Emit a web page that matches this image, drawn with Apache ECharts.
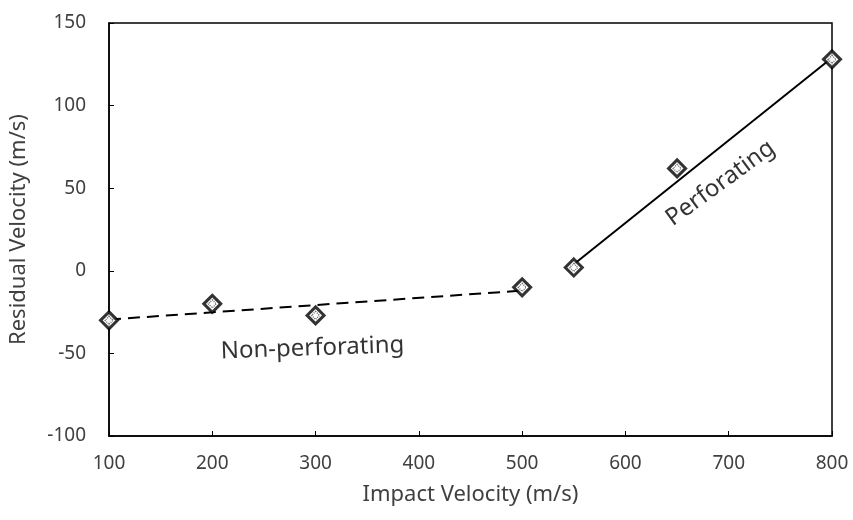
<!DOCTYPE html>
<html>
<head>
<meta charset="utf-8">
<script src="https://cdn.jsdelivr.net/npm/echarts@6/dist/echarts.min.js"></script>
<style>
    html, body { margin: 0; padding: 0; background: #fff; }
    #chart { width: 853px; height: 520px; }
</style>
</head>
<body>
<div id="chart"></div>
<script>
// 数据
var xTicks = [100, 200, 300, 400, 500, 600, 700, 800];
var yTicks = [-100, -50, 0, 50, 100, 150];
var nonPerfX = [100, 200, 300, 500];
var nonPerfY = [-30, -20, -27, -10];
var perfX = [550, 650, 800];
var perfY = [2, 62, 128];
// 趋势线端点
var nonPerfFitX = [100, 500];
var nonPerfFitY = [-29.5, -12];
var perfFitX = [550, 800];
var perfFitY = [4, 129];

function pairs(xs, ys) {
    return xs.map(function(x, i) { return [x, ys[i]]; });
}

(function() {
    var myChart = echarts.init(document.getElementById("chart"));
    var font = "Noto Sans";
    var option = {
        animation: false,
        grid: {
            left: 108,
            right: 21,
            top: 23,
            bottom: 84,
            show: true,
            borderColor: "#000",
            borderWidth: 1.5
        },
        xAxis: {
            type: "value",
            min: xTicks[0],
            max: xTicks[xTicks.length - 1],
            interval: 100,
            name: "Impact Velocity (m/s)",
            nameLocation: "middle",
            nameGap: 48,
            nameTextStyle: { color: "#404040", fontSize: 22, fontFamily: font },
            axisLine: { onZero: false, lineStyle: { color: "#000", width: 1.5 } },
            axisTick: { inside: true, length: 5, lineStyle: { color: "#000" } },
            axisLabel: { color: "#404040", fontSize: 19, fontFamily: font, margin: 18 },
            splitLine: { show: false }
        },
        yAxis: {
            type: "value",
            min: yTicks[0],
            max: yTicks[yTicks.length - 1],
            interval: 50,
            name: "Residual Velocity (m/s)",
            nameLocation: "middle",
            nameGap: 79,
            nameTextStyle: { color: "#404040", fontSize: 22, fontFamily: font },
            axisLine: { onZero: false, lineStyle: { color: "#000", width: 1.5 } },
            axisTick: { inside: true, length: 5, lineStyle: { color: "#000" } },
            axisLabel: { color: "#404040", fontSize: 19, fontFamily: font, margin: 23 },
            splitLine: { show: false }
        },
        series: [
            {
                name: "non-fit",
                type: "line",
                data: pairs(nonPerfFitX, nonPerfFitY),
                symbol: "none",
                lineStyle: { color: "#000", width: 2, type: [12, 7] },
                z: 2
            },
            {
                name: "perf-fit",
                type: "line",
                data: pairs(perfFitX, perfFitY),
                symbol: "none",
                lineStyle: { color: "#000", width: 2 },
                z: 2
            },
            {
                name: "points",
                type: "scatter",
                data: pairs(nonPerfX, nonPerfY).concat(pairs(perfX, perfY)),
                symbol: "diamond",
                symbolSize: 17,
                itemStyle: { color: "#fff", borderColor: "#000", borderWidth: 3 },
                z: 3
            },
            {
                name: "points-inner",
                type: "scatter",
                data: pairs(nonPerfX, nonPerfY).concat(pairs(perfX, perfY)),
                symbol: "diamond",
                symbolSize: 8,
                itemStyle: { color: "#fff", borderColor: "#444", borderWidth: 1.3, borderType: [1, 1] },
                z: 4,
                silent: true
            },
            {
                name: "labels",
                type: "scatter",
                symbolSize: 0,
                data: [
                    { value: [297, -47], label: { formatter: "Non-perforating", rotate: 2 } },
                    { value: [692, 53], label: { formatter: "Perforating", rotate: 36 } }
                ],
                label: {
                    show: true,
                    position: "inside",
                    color: "#000",
                    fontSize: 24,
                    fontFamily: font
                },
                z: 5
            }
        ]
    };
    myChart.setOption(option);
    window.addEventListener("resize", function() {
        myChart.resize();
    });
})();
</script>
</body>
</html>
